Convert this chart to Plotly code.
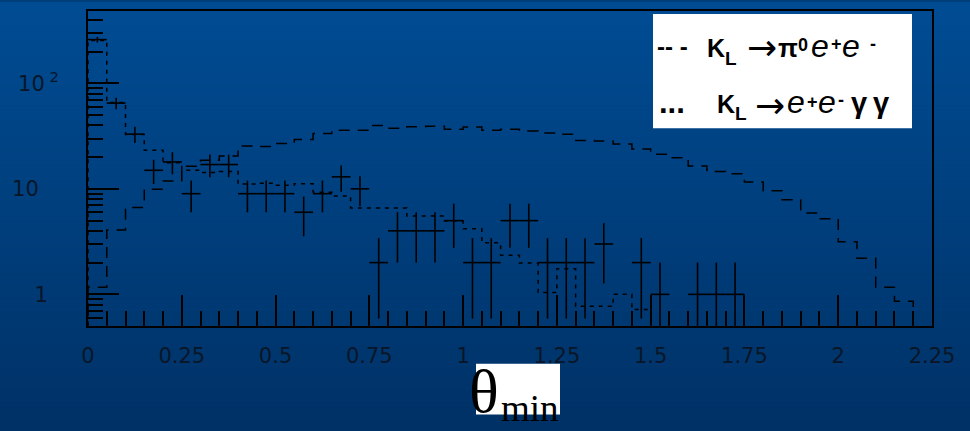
import plotly.graph_objects as go

# ---------------- data ----------------
bin_lo = [0.00, 0.05, 0.10, 0.15, 0.20, 0.25, 0.30, 0.35, 0.40, 0.45,
          0.50, 0.55, 0.60, 0.65, 0.70, 0.75, 0.80, 0.85, 0.90, 0.95,
          1.00, 1.05, 1.10, 1.15, 1.20, 1.25, 1.30, 1.35, 1.40, 1.45,
          1.50, 1.55, 1.60, 1.65, 1.70, 1.75, 1.80, 1.85, 1.90, 1.95,
          2.00, 2.05, 2.10, 2.15, 2.20]
bin_width = 0.05

# K_L -> pi0 e+ e-  (dashed histogram)
pi0ee = [1.17, 4.08, 6.66, 9.94, 11.9, 16.4, 18.7, 20.5, 25.5, 25.2,
         26.9, 29.4, 33.5, 36.0, 36.0, 39.9, 37.6, 38.7, 39.3, 36.8,
         38.5, 36.0, 36.8, 35.3, 33.8, 33.0, 28.8, 28.4, 26.6, 23.9,
         21.3, 19.7, 16.5, 14.6, 13.9, 11.6, 9.6, 7.9, 5.9, 5.2,
         3.16, 2.2, 1.17, 0.86, 0]

# K_L -> e+ e- gamma gamma  (dotted histogram)
eegg = [255, 66, 32.8, 23.2, 17.7, 15.0, 14.3, 14.6, 11.1, 11.3,
        10.8, 11.2, 9.3, 8.55, 6.6, 6.6, 6.6, 5.53, 5.53, 4.95,
        4.19, 3.09, 2.35, 1.98, 1.04, 1.75, 0.77, 0.77, 1.0, 0.72,
        0, 0, 0, 0, 0, 0, 0, 0, 0, 0,
        0, 0, 0, 0, 0]

# data points (counts) with their statistical errors
data_counts = [260, 65, 33, 15, 18, 9, 17, 17, 9, 9,
               9, 6, 9, 13, 10, 2, 4, 4, 4, 5,
               2, 2, 5, 5, 2, 2, 2, 3, 0, 2,
               1, 0, 1, 1, 1, 0, 0, 0, 0, 0,
               0, 0, 0, 0, 0]
data_err = [16.1, 8.06, 5.74, 3.87, 4.24, 3.0, 4.12, 4.12, 3.0, 3.0,
            3.0, 2.45, 3.0, 3.61, 3.16, 1.41, 2.0, 2.0, 2.0, 2.24,
            1.41, 1.41, 2.24, 2.24, 1.41, 1.41, 1.41, 1.73, 0, 1.41,
            1.0, 0, 1.0, 1.0, 1.0, 0, 0, 0, 0, 0,
            0, 0, 0, 0, 0]

NB_SP = "\u00a0"
x_tickvals = [0, 0.25, 0.5, 0.75, 1, 1.25, 1.5, 1.75, 2, 2.25]
x_ticktext = ["0", "0.25", "0.5", "0.75", "1", "1.25", "1.5", "1.75", "2", "2.25"]
y_tickvals = [1, 10, 100]
y_ticktext = ["1" + NB_SP + "\u2009", "10" + NB_SP * 3, "10<sup>" + NB_SP + "2</sup>"]
y_minor = [0.6, 0.7, 0.8, 0.9, 2, 3, 4, 5, 6, 7, 8, 9,
           20, 30, 40, 50, 60, 70, 80, 90, 200, 300, 400]

# ---------------- geometry ----------------
W, H = 970, 431
ML, MR, MT, MB = 88, 38, 9, 105
PW, PH = W - ML - MR, H - MT - MB
FLOOR = 1e-2  # below the visible log range (empty bins drop to the frame)


def px_x(p):
    return (p - ML) / PW


def px_y(p):
    return (H - MB - p) / PH


def step(vals):
    xs = [bin_lo[0]] + list(bin_lo) + [bin_lo[-1] + bin_width, bin_lo[-1] + bin_width]
    v = [x if x > 0 else FLOOR for x in vals]
    ys = [FLOOR] + v + [v[-1], FLOOR]
    return xs, ys


fig = go.Figure()

xs, ys = step(pi0ee)
fig.add_trace(go.Scatter(x=xs, y=ys, mode="lines", line_shape="hv",
                         line=dict(color="black", width=1.5, dash="11px,8px"),
                         showlegend=False, hoverinfo="skip"))
xs, ys = step(eegg)
fig.add_trace(go.Scatter(x=xs, y=ys, mode="lines", line_shape="hv",
                         line=dict(color="black", width=1.5, dash="4px,5px"),
                         showlegend=False, hoverinfo="skip"))

dx, dy, dup, ddn = [], [], [], []
for lo, c, e in zip(bin_lo, data_counts, data_err):
    if c > 0:
        dx.append(lo + bin_width / 2)
        dy.append(c)
        dup.append(e)
        ddn.append(e if c - e > 0 else c - FLOOR / 10)

fig.add_trace(go.Scatter(
    x=dx, y=dy, mode="markers", marker=dict(size=1, color="black", opacity=0),
    error_x=dict(type="constant", value=bin_width / 2, width=0, thickness=1.6, color="black"),
    error_y=dict(type="data", array=dup, arrayminus=ddn, symmetric=False,
                 width=0, thickness=1.6, color="black"),
    showlegend=False, hoverinfo="skip"))

# ---------------- background gradient (bands) ----------------
shapes = []
top_rgb = (0, 76, 147)
bot_rgb = (0, 49, 102)
NB = 108
for i in range(NB):
    t = i / (NB - 1)
    r = round(top_rgb[0] + (bot_rgb[0] - top_rgb[0]) * t)
    g = round(top_rgb[1] + (bot_rgb[1] - top_rgb[1]) * t)
    b = round(top_rgb[2] + (bot_rgb[2] - top_rgb[2]) * t)
    y0p = i * H / NB
    y1p = (i + 1) * H / NB + 0.6
    shapes.append(dict(type="rect", xref="paper", yref="paper", layer="below",
                       x0=px_x(-2), x1=px_x(W + 2), y0=px_y(y1p), y1=px_y(y0p),
                       fillcolor=f"rgb({r},{g},{b})", line=dict(width=0)))

# legend box
shapes.append(dict(type="rect", xref="paper", yref="paper", layer="above",
                   x0=px_x(653), x1=px_x(912), y0=px_y(127), y1=px_y(12),
                   fillcolor="white", line=dict(width=0)))
# x-title box
shapes.append(dict(type="rect", xref="paper", yref="paper", layer="above",
                   x0=px_x(476), x1=px_x(560), y0=px_y(415), y1=px_y(364),
                   fillcolor="white", line=dict(width=0)))

annotations = []
SANS = "Liberation Sans, Arial, sans-serif"
ARROWF = "DejaVu Sans, sans-serif"


def txt(x, yc, s, size, family=SANS):
    annotations.append(dict(xref="paper", yref="paper", x=px_x(x), y=px_y(yc),
                            xanchor="left", yanchor="middle", showarrow=False,
                            borderpad=0,
                            text=s, font=dict(family=family, size=size, color="black")))


# legend line 1:  -- -  K_L -> pi0 e+ e-
txt(656, 45.0, "<b>-- -</b>", 24)
txt(706, 46.0, "<b>K</b>", 25)
txt(724, 57.0, "<b>L</b>", 19)
txt(746, 45.5, "\u2192", 36, ARROWF)
txt(777, 46.0, "<b>\u03c0</b>", 26)
txt(797, 43.5, "<b>0</b>", 18)
txt(810, 44.0, "<i>e</i>", 32)
txt(830, 42.5, "<b>+</b>", 18)
txt(841, 44.0, "<i>e</i>", 32)
txt(869, 42.0, "<b>-</b>", 18)
# legend line 2:  ...  K_L -> e+ e- gamma gamma
txt(658, 101.0, "<b>...</b>", 31)
txt(716, 103.0, "<b>K</b>", 25)
txt(734, 112.0, "<b>L</b>", 19)
txt(754, 104.0, "\u2192", 36, ARROWF)
txt(786, 101.0, "<i>e</i>", 32)
txt(806, 100.5, "<b>+</b>", 18)
txt(817, 101.0, "<i>e</i>", 32)
txt(837, 99.0, "<b>-</b>", 18)
txt(850, 101.5, "<b>\u03b3\u2009\u03b3</b>", 29)

# x title
SERIF = "Liberation Serif, Times New Roman, serif"
txt(468, 391, "\u03b8", 62, SERIF)
txt(500, 409, "min", 37, SERIF)

tick_font = dict(family="DejaVu Sans, sans-serif", size=21, color="#0a1628")

fig.update_layout(
    width=W, height=H,
    margin=dict(l=ML, r=MR, t=MT, b=MB, pad=0),
    paper_bgcolor="rgb(0,62,123)",
    plot_bgcolor="rgba(0,0,0,0)",
    shapes=shapes,
    annotations=annotations,
    showlegend=False,
    xaxis=dict(range=[0, 2.25], tickmode="array", tickvals=x_tickvals, ticktext=x_ticktext,
               ticks="inside", ticklen=31, tickwidth=1.5, tickcolor="black",
               minor=dict(tickmode="array", tickvals=bin_lo, ticks="inside", ticklen=15,
                          tickwidth=1.5, tickcolor="black", showgrid=False),
               showline=True, linecolor="black", linewidth=2, mirror=True,
               showgrid=False, zeroline=False, tickfont=tick_font,
               ticklabelstandoff=10, fixedrange=True),
    yaxis=dict(type="log", range=[-0.3, 2.686], tickmode="array", tickvals=y_tickvals,
               ticktext=y_ticktext, ticks="inside", ticklen=31, tickwidth=1.5,
               tickcolor="black",
               minor=dict(tickmode="array", tickvals=y_minor, ticks="inside", ticklen=15,
                          tickwidth=1.5, tickcolor="black", showgrid=False),
               showline=True, linecolor="black", linewidth=2, mirror=True,
               showgrid=False, zeroline=False, tickfont=tick_font,
               ticklabelstandoff=23, fixedrange=True),
)

fig.write_html("out.html")
